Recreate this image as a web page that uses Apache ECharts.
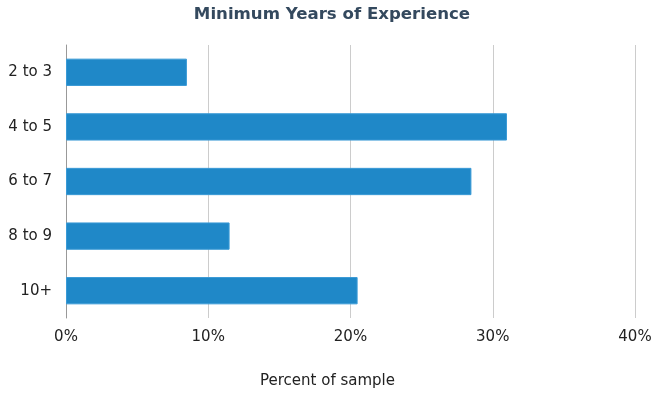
<!DOCTYPE html>
<html>
<head>
<meta charset="utf-8">
<script src="https://cdn.jsdelivr.net/npm/echarts@6/dist/echarts.min.js"></script>
<style>
  html, body { margin: 0; padding: 0; background: #fff; }
  #chart { width: 664px; height: 399px; }
</style>
</head>
<body>
<div id="chart"></div>
<script>
// data
var categories = ['2 to 3', '4 to 5', '6 to 7', '8 to 9', '10+'];
var percents = [8.5, 31, 28.5, 11.5, 20.5];
var xTicks = [0, 10, 20, 30, 40];

var myChart = echarts.init(document.getElementById('chart'));
var font = 'Verdana, "DejaVu Sans", sans-serif';

var option = {
    animation: false,
    title: [{
        text: 'Minimum Years of Experience',
        left: 'center',
        top: 1,
        textStyle: { fontFamily: font, fontSize: 16.6, fontWeight: 'bold', color: '#34495e' }
    }, {
        text: 'Percent of sample',
        left: 255,
        top: 369,
        textStyle: { fontFamily: font, fontSize: 15, fontWeight: 'normal', color: '#222' }
    }],
    grid: { left: 66, right: 29, top: 45, bottom: 81, containLabel: false },
    xAxis: {
        type: 'value',
        min: xTicks[0],
        max: xTicks[xTicks.length - 1],
        interval: 10,
        axisLine: { show: false },
        axisTick: { show: false },
        splitLine: { lineStyle: { color: '#cccccc' } },
        axisLabel: {
            margin: 12,
            fontFamily: font, fontSize: 15, color: '#222',
            formatter: function (v) { return v + '%'; }
        }
    },
    yAxis: {
        type: 'category',
        inverse: true,
        data: categories,
        axisLine: { show: true, lineStyle: { color: '#999999' } },
        axisTick: { show: false },
        axisLabel: { margin: 14, fontFamily: font, fontSize: 15, color: '#222' }
    },
    series: [{
        type: 'bar',
        data: percents,
        barWidth: '50%',
        itemStyle: { color: '#1f88c8', borderColor: '#3a9ad6', borderWidth: 1 }
    }]
};

myChart.setOption(option);
</script>
</body>
</html>
